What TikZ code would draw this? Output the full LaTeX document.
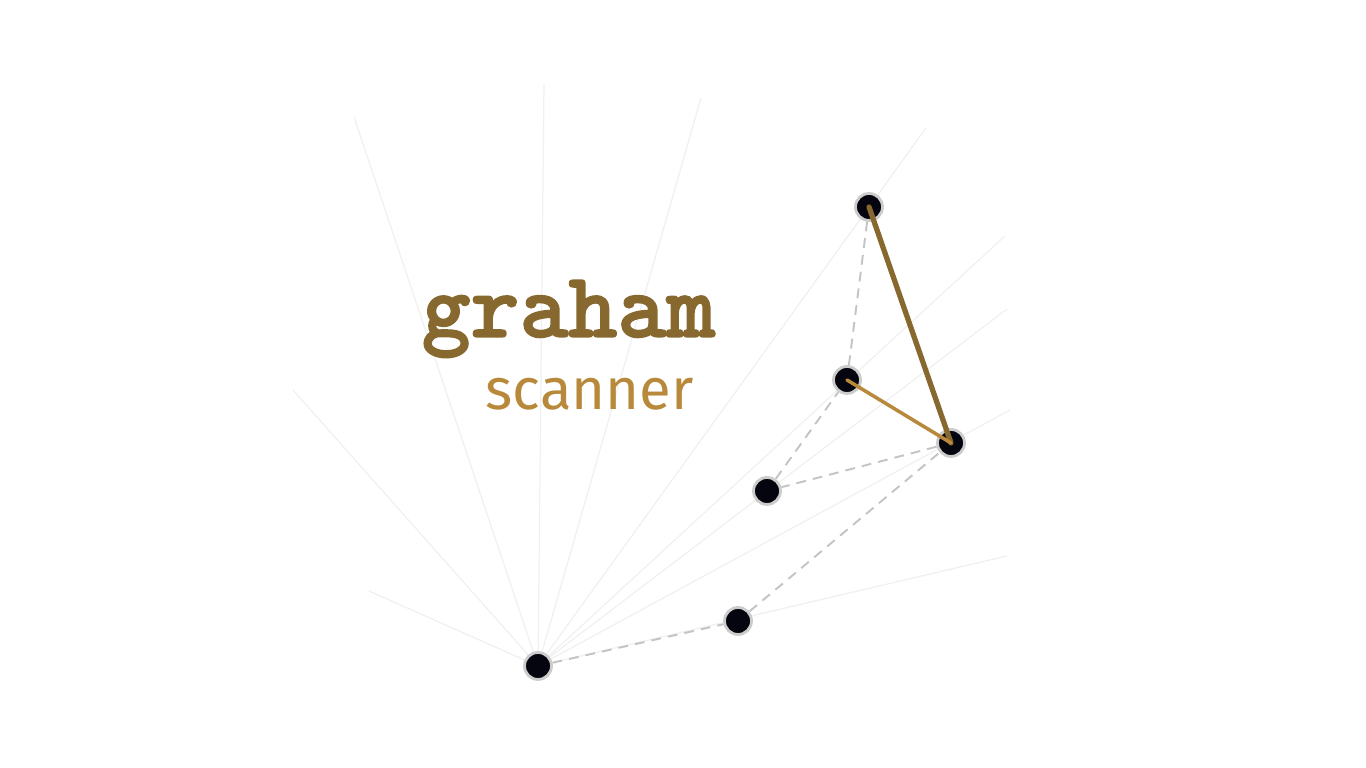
\documentclass[tikz,border=0pt]{standalone}
\usepackage{fontspec}
\usetikzlibrary{backgrounds}
\newfontfamily\labelfont{Fira Sans}
\newfontfamily\titlefont{lmmonolt10-bold.otf}[FakeBold=1.6]
\definecolor{hullbrown}{HTML}{87692F}
\definecolor{hullgold}{HTML}{B8893A}
\definecolor{raygray}{HTML}{F0F0F0}
\definecolor{dashgray}{HTML}{C4C4C4}
\definecolor{ptfill}{HTML}{05050F}
\definecolor{ptedge}{HTML}{CCCCCC}

\begin{document}
\begin{tikzpicture}[x=0.01cm, y=-0.01cm, yshift=7.68cm,
    pt/.style={circle, fill=ptfill, draw=ptedge, line width=0.8pt, minimum size=0.27cm, inner sep=0pt},
    ray/.style={raygray, line width=0.35pt},
    scan/.style={dashgray, line width=0.55pt, dash pattern=on 2.8pt off 2pt},
    every node/.style={inner sep=0pt}]
        \useasboundingbox (0,0) rectangle (1366,768);
        % points
        \node [pt] (p0) at (538,666) {};
        \node [pt] (p1) at (738,621) {};
        \node [pt] (p2) at (767,491) {};
        \node [pt] (p3) at (847,380) {};
        \node [pt] (p4) at (951,443) {};
        \node [pt] (p5) at (869,207) {};
        % free ends of the rays
        \coordinate (r1) at (369,591);
        \coordinate (r2) at (293,390);
        \coordinate (r3) at (354,117);
        \coordinate (r4) at (544,84);
        \coordinate (r5) at (701,98);
        \coordinate (r6) at (926,128);
        \coordinate (r7) at (1005,236);
        \coordinate (r8) at (1007,309);
        \coordinate (r9) at (1010,410);
        \coordinate (r10) at (1007,556);
        \begin{scope}[on background layer]
          \foreach \r in {r1,r2,r3,r4,r5,r6,r7,r8,r9,r10}
            \draw [ray] (p0.center) -- (\r);
          \draw [scan] (p0) -- (p1) -- (p4);
          \draw [scan] (p4) -- (p2) -- (p3) -- (p5);
        \end{scope}
        % hull
        \draw [hullbrown, line width=1.5pt, line cap=round] (p5.center) -- (p4.center);
        \draw [hullgold, line width=1pt, line cap=round] (p3.center) -- (p4.center);
        % title
        \node [anchor=base west, hullbrown] (title) at (421,337) {\titlefont\fontsize{26.5}{26.5}\selectfont graham};
        \node [anchor=base west, hullgold] (subtitle) at (485,410) {\labelfont\fontsize{16.5}{16.5}\selectfont scanner};
      \end{tikzpicture}
\end{document}
